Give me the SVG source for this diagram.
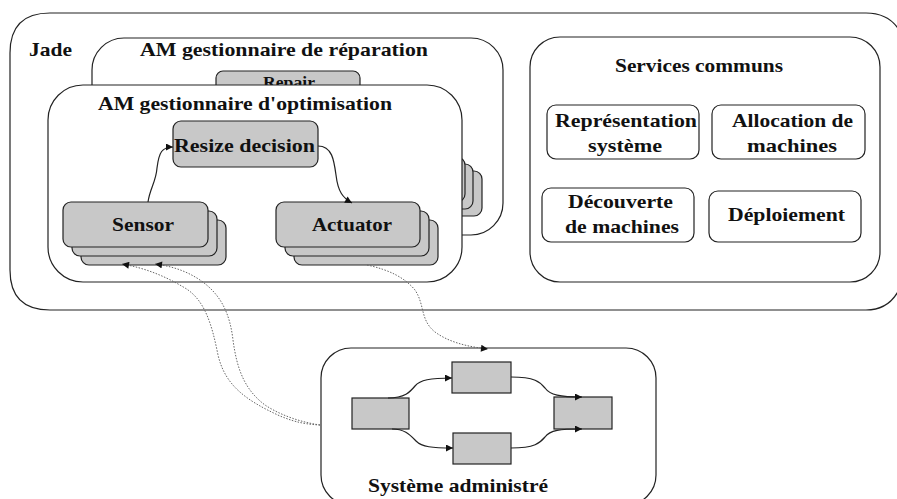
<svg xmlns="http://www.w3.org/2000/svg" width="897" height="499" viewBox="0 0 897 499">
<defs>
<style>
.box{fill:#fff;stroke:#222;stroke-width:1.2}
.g{fill:#c8c8c8;stroke:#222;stroke-width:1.2}
.t{font-family:"Liberation Serif","Times New Roman",serif;font-weight:bold;font-size:19px;fill:#111}
.c{fill:none;stroke:#222;stroke-width:1.2}
.d{fill:none;stroke:#666;stroke-width:1;stroke-dasharray:1.5 1.5}
</style>
<marker id="ah" viewBox="0 0 10 10" refX="10" refY="5" markerWidth="9" markerHeight="7" markerUnits="userSpaceOnUse" orient="auto">
<path d="M0,0 L10,5 L0,10 z" fill="#111"/>
</marker>
</defs>
<rect width="897" height="499" fill="#fff"/>

<g id="jade">
<path class="box" d="M50,13 H866 Q897,13 905,45 V272 Q897,310 866,310 H50 Q10,310 10,270 V53 Q10,13 50,13 Z"/>
<text class="t" font-family="Liberation Serif, serif" x="29" y="56" textLength="43" lengthAdjust="spacingAndGlyphs">Jade</text>
</g>

<g id="services">
<rect class="box" x="530" y="37" width="350" height="245" rx="30"/>
<text class="t" font-family="Liberation Serif, serif" x="615" y="72" textLength="168" lengthAdjust="spacingAndGlyphs">Services communs</text>
</g>
<g id="representation">
<rect class="box" x="547" y="105" width="152" height="54" rx="9"/>
<text class="t" font-family="Liberation Serif, serif" x="555" y="127" textLength="142" lengthAdjust="spacingAndGlyphs">Représentation</text>
<text class="t" font-family="Liberation Serif, serif" x="588" y="152" textLength="74" lengthAdjust="spacingAndGlyphs">système</text>
</g>
<g id="allocation">
<rect class="box" x="712" y="105" width="153" height="54" rx="9"/>
<text class="t" font-family="Liberation Serif, serif" x="732" y="127" textLength="121" lengthAdjust="spacingAndGlyphs">Allocation de</text>
<text class="t" font-family="Liberation Serif, serif" x="747" y="152" textLength="90" lengthAdjust="spacingAndGlyphs">machines</text>
</g>
<g id="decouverte">
<rect class="box" x="542" y="188" width="152" height="54" rx="9"/>
<text class="t" font-family="Liberation Serif, serif" x="568" y="208" textLength="105" lengthAdjust="spacingAndGlyphs">Découverte</text>
<text class="t" font-family="Liberation Serif, serif" x="565" y="233" textLength="114" lengthAdjust="spacingAndGlyphs">de machines</text>
</g>
<g id="deploiement">
<rect class="box" x="709" y="191" width="152" height="51" rx="9"/>
<text class="t" font-family="Liberation Serif, serif" x="728" y="221" textLength="117" lengthAdjust="spacingAndGlyphs">Déploiement</text>
</g>

<g id="am-reparation">
<rect class="box" x="92" y="38" width="411" height="197" rx="32"/>
<text class="t" font-family="Liberation Serif, serif" x="140" y="56" textLength="288" lengthAdjust="spacingAndGlyphs">AM gestionnaire de réparation</text>
</g>
<g id="repair">
<rect class="g" x="216" y="71" width="144" height="45" rx="7"/>
<text class="t" font-family="Liberation Serif, serif" x="263" y="88" textLength="52" lengthAdjust="spacingAndGlyphs" style="font-size:16px">Repair</text>
</g>
<g id="repair-actuator">
<rect class="g" x="337" y="171" width="145" height="45" rx="8"/>
<rect class="g" x="328" y="164" width="145" height="45" rx="8"/>
<rect class="g" x="320" y="157" width="145" height="45" rx="8"/>
</g>

<g id="am-optimisation">
<rect class="box" x="48" y="85" width="414" height="197" rx="35"/>
<text class="t" font-family="Liberation Serif, serif" x="98" y="110" textLength="294" lengthAdjust="spacingAndGlyphs">AM gestionnaire d'optimisation</text>
</g>
<g id="resize">
<rect class="g" x="173" y="121" width="145" height="46" rx="8"/>
<text class="t" font-family="Liberation Serif, serif" x="174" y="152" textLength="141" lengthAdjust="spacingAndGlyphs">Resize decision</text>
</g>
<g id="sensor">
<rect class="g" x="81" y="220" width="145" height="45" rx="8"/>
<rect class="g" x="72" y="211" width="145" height="45" rx="8"/>
<rect class="g" x="63" y="202" width="145" height="45" rx="8"/>
<text class="t" font-family="Liberation Serif, serif" x="112" y="231" textLength="62" lengthAdjust="spacingAndGlyphs">Sensor</text>
</g>
<g id="actuator">
<rect class="g" x="294" y="220" width="144" height="45" rx="8"/>
<rect class="g" x="285" y="211" width="144" height="45" rx="8"/>
<rect class="g" x="276" y="202" width="144" height="45" rx="8"/>
<text class="t" font-family="Liberation Serif, serif" x="312" y="231" textLength="80" lengthAdjust="spacingAndGlyphs">Actuator</text>
</g>

<g id="systeme">
<rect class="box" x="321" y="348" width="335" height="157" rx="30"/>
<text class="t" font-family="Liberation Serif, serif" x="368" y="492" textLength="180" lengthAdjust="spacingAndGlyphs">Système administré</text>
</g>
<g id="s-left"><rect class="g" x="352" y="398" width="57" height="31"/></g>
<g id="s-top"><rect class="g" x="452" y="362" width="59" height="31"/></g>
<g id="s-bottom"><rect class="g" x="453" y="433" width="58" height="31"/></g>
<g id="s-right"><rect class="g" x="554" y="397" width="58" height="32"/></g>

<g id="connectors">
<path class="c" marker-end="url(#ah)" d="M148,202 C150,188 156,182 157,168 C159,152 162,147 173,147"/>
<path class="c" marker-end="url(#ah)" d="M318,146 C332,146 334,160 336,175 C338,192 343,198 352,203"/>
<path class="c" marker-end="url(#ah)" d="M388,398 C405,398 410,392 415,386 C420,380 430,378 452,378"/>
<path class="c" marker-end="url(#ah)" d="M392,429 C405,429 410,435 416,441 C422,447 432,448 453,448"/>
<path class="c" marker-end="url(#ah)" d="M511,377 C535,377 540,382 545,388 C550,395 560,397 582,397"/>
<path class="c" marker-end="url(#ah)" d="M511,448 C535,448 540,443 545,437 C550,430 560,429 582,429"/>
<path class="d" marker-end="url(#ah)" d="M320,425 C300,424 290,420 280,416 C245,400 225,385 218,355 C212,325 205,300 185,288 C165,276 145,268 122,264"/>
<path class="d" marker-end="url(#ah)" d="M320,425 C300,422 280,415 265,405 C245,390 237,370 233,340 C230,315 222,295 200,280 C185,270 170,266 155,264"/>
<path class="d" marker-end="url(#ah)" d="M367,265 C390,270 405,278 415,290 C425,305 420,320 435,332 C450,343 470,347 488,349"/>
</g>
</svg>
